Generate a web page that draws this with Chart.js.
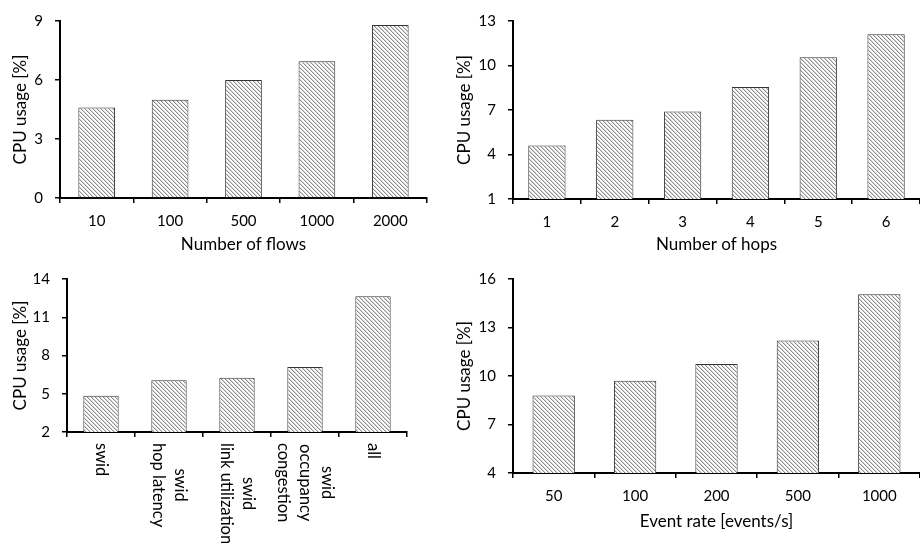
<!DOCTYPE html>
<html>
<head>
<meta charset="utf-8">
<script src="https://cdn.jsdelivr.net/npm/chart.js@4.4.1/dist/chart.umd.min.js"></script>
<style>
  body { margin: 0; background: #fff; }
  #wrap { position: relative; width: 920px; height: 543px; overflow: hidden; }
  .box { position: absolute; }
</style>
</head>
<body>
<div id="wrap">
  <div class="box" style="left:0;top:0"><canvas id="c1" width="440" height="258"></canvas></div>
  <div class="box" style="left:450px;top:0"><canvas id="c2" width="470" height="258"></canvas></div>
  <div class="box" style="left:0;top:258px"><canvas id="c3" width="440" height="285"></canvas></div>
  <div class="box" style="left:450px;top:258px"><canvas id="c4" width="470" height="285"></canvas></div>
</div>
<script>
// --- data ---
const flowLabels = ['10', '100', '500', '1000', '2000'];
const flowCpu = [4.6, 5.0, 6.0, 6.95, 8.8];

const hopLabels = ['1', '2', '3', '4', '5', '6'];
const hopCpu = [4.6, 6.35, 6.9, 8.55, 10.55, 12.1];

const featureLabels = [
  ['swid'],
  ['swid', 'hop latency'],
  ['swid', 'link utilization'],
  ['swid', 'occupancy', 'congestion'],
  ['all']
];
const featureCpu = [4.85, 6.05, 6.25, 7.1, 12.65];

const rateLabels = ['50', '100', '200', '500', '1000'];
const rateCpu = [8.8, 9.7, 10.75, 12.2, 15.05];

const FONT = 'Lato';
Chart.defaults.font.family = FONT;
Chart.defaults.font.size = 15;
Chart.defaults.color = '#000';
const titleFont = { size: 17 };

// --- hatch fill for the bars ---
function hatch() {
  const t = document.createElement('canvas');
  t.width = 4; t.height = 4;
  const g = t.getContext('2d');
  g.fillStyle = '#fff';
  g.fillRect(0, 0, 4, 4);
  for (let i = 0; i < 4; i++) {
    g.fillStyle = '#8c8c8c';
    g.fillRect(i, i, 1, 1);
    g.fillStyle = '#d6d6d6';
    g.fillRect((i + 1) % 4, i, 1, 1);
  }
  return g.createPattern(t, 'repeat');
}
const fill = hatch();

// rotated, centred multi-line labels for the feature chart
const verticalLabels = {
  id: 'verticalLabels',
  afterDraw(chart) {
    const xs = chart.scales.x;
    const ctx = chart.ctx;
    const lineH = 22;
    ctx.save();
    ctx.font = '16.5px ' + FONT;
    ctx.fillStyle = '#000';
    ctx.textAlign = 'center';
    ctx.textBaseline = 'middle';
    featureLabels.forEach((lines, i) => {
      const x = xs.getPixelForValue(i);
      const w = Math.max(...lines.map(l => ctx.measureText(l).width));
      lines.forEach((line, j) => {
        ctx.save();
        ctx.translate(x - (j - (lines.length - 1) / 2) * lineH, xs.top + 11);
        ctx.rotate(Math.PI / 2);
        ctx.fillText(line, w / 2, 0);
        ctx.restore();
      });
    });
    ctx.restore();
  }
};

// one bar chart; geometry numbers only position the axes
function makeChart(id, labels, values, o) {
  return new Chart(document.getElementById(id), {
    type: 'bar',
    data: {
      labels: labels,
      datasets: [{
        data: values,
        backgroundColor: fill,
        borderColor: '#333',
        borderWidth: 1,
        borderSkipped: 'bottom',
        categoryPercentage: 1,
        barPercentage: o.bar
      }]
    },
    options: {
      responsive: false,
      animation: false,
      devicePixelRatio: 1,
      layout: { padding: { top: o.top, right: o.right, left: 0, bottom: 0 } },
      plugins: { legend: { display: false }, tooltip: { enabled: false } },
      scales: {
        x: {
          afterFit: s => { s.height = o.xh; },
          border: { color: '#000', width: 2 },
          grid: { drawOnChartArea: false, tickLength: 5, color: '#000', lineWidth: 1.5 },
          ticks: { display: o.xticks !== false, padding: 9, maxRotation: 0 },
          title: { display: !!o.xtitle, text: o.xtitle, font: titleFont, padding: { top: 0, bottom: o.xtp } }
        },
        y: {
          min: o.min, max: o.max,
          afterFit: s => { s.width = o.yw; },
          border: { color: '#000', width: 2 },
          grid: { drawOnChartArea: false, tickLength: 5, color: '#000', lineWidth: 1.5 },
          ticks: { stepSize: 3, padding: 12 },
          title: { display: true, text: 'CPU usage [%]', font: titleFont, padding: { top: o.ytp, bottom: 0 } }
        }
      }
    },
    plugins: o.plugins || []
  });
}

makeChart('c1', flowLabels, flowCpu,
  { min: 0, max: 9, bar: 0.5, top: 10, right: 13, xh: 60, yw: 60, xtitle: 'Number of flows', xtp: 3, ytp: 10 });
makeChart('c2', hopLabels, hopCpu,
  { min: 1, max: 13, bar: 0.55, top: 10, right: 0, xh: 59, yw: 63, xtitle: 'Number of hops', xtp: 3, ytp: 4 });
makeChart('c3', featureLabels.map(l => l.join(' ')), featureCpu,
  { min: 2, max: 14, bar: 0.52, top: 10, right: 33, xh: 111, yw: 67, xticks: false, ytp: 10, plugins: [verticalLabels] });
makeChart('c4', rateLabels, rateCpu,
  { min: 4, max: 16, bar: 0.52, top: 20, right: 0, xh: 70, yw: 63, xtitle: 'Event rate [events/s]', xtp: 11, ytp: 4 });
</script>
</body>
</html>
